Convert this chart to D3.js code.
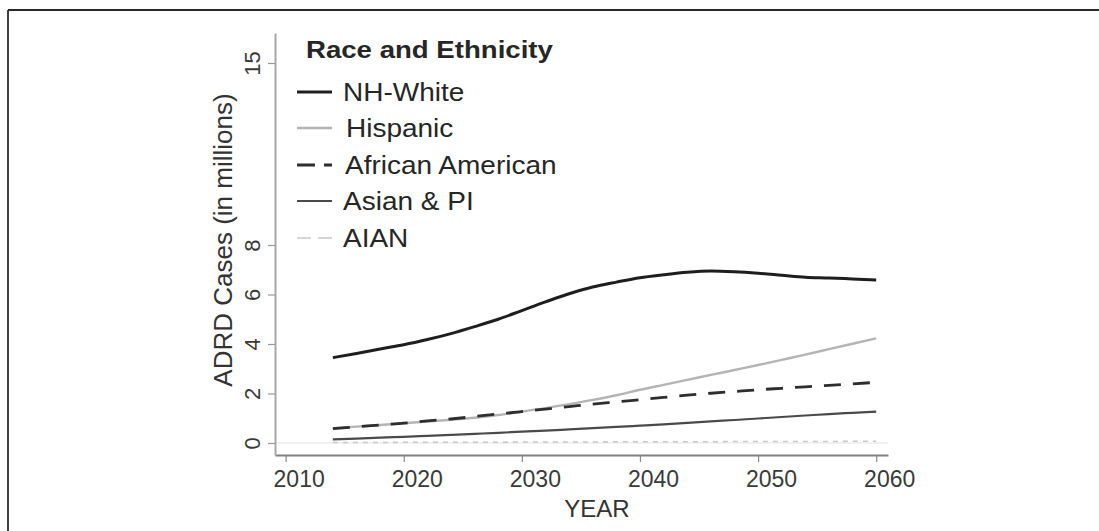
<!DOCTYPE html>
<html>
<head>
<meta charset="utf-8">
<script src="https://cdn.jsdelivr.net/npm/d3@7"></script>
<style>
  html, body { margin: 0; padding: 0; background: #fff; }
  svg { display: block; }
  text { font-family: "Liberation Sans", Arial, Helvetica, sans-serif; }
</style>
</head>
<body>
<svg id="chart" width="1099" height="531"></svg>
<script>
// ---- Data ----
const years = [2014, 2016, 2018, 2020, 2022, 2024, 2026, 2028, 2030, 2032, 2034, 2036,
               2038, 2040, 2042, 2044, 2046, 2048, 2050, 2052, 2054, 2056, 2058, 2060];
const nhWhite = [3.45, 3.62, 3.80, 3.97, 4.18, 4.42, 4.70, 5.00, 5.35, 5.70, 6.03, 6.30,
                 6.50, 6.68, 6.80, 6.90, 6.95, 6.92, 6.86, 6.78, 6.70, 6.67, 6.63, 6.59];
const hispanic = [0.60, 0.66, 0.73, 0.80, 0.87, 0.94, 1.02, 1.13, 1.27, 1.41, 1.57, 1.74,
                  1.93, 2.15, 2.35, 2.55, 2.75, 2.95, 3.15, 3.36, 3.57, 3.79, 4.01, 4.23];
const africanAmerican = [0.58, 0.65, 0.73, 0.80, 0.89, 0.97, 1.07, 1.17, 1.27, 1.37, 1.47, 1.57,
                         1.66, 1.75, 1.84, 1.93, 2.01, 2.08, 2.15, 2.21, 2.27, 2.33, 2.39, 2.45];
const asianPI = [0.15, 0.18, 0.22, 0.25, 0.29, 0.33, 0.37, 0.41, 0.46, 0.50, 0.55, 0.60,
                 0.65, 0.70, 0.75, 0.81, 0.87, 0.93, 0.99, 1.05, 1.11, 1.17, 1.22, 1.27];
const aian = [0.02, 0.02, 0.02, 0.03, 0.03, 0.03, 0.03, 0.03, 0.04, 0.04, 0.04, 0.04,
              0.05, 0.05, 0.05, 0.05, 0.05, 0.06, 0.06, 0.06, 0.06, 0.06, 0.07, 0.07];

const xTicks = [2010, 2020, 2030, 2040, 2050, 2060];
const yTicks = [0, 2, 4, 6, 8, 15];
const seriesNames = ["NH-White", "Hispanic", "African American", "Asian & PI", "AIAN"];
const legendTitle = "Race and Ethnicity";
const xTitle = "YEAR";
const yTitle = "ADRD Cases (in millions)";

// ---- Styles ----
const styles = [
  { color: "#1e1e1e", width: 3,   dash: null,    legendDash: null },
  { color: "#b4b4b4", width: 2.4, dash: null,    legendDash: null },
  { color: "#2e2e2e", width: 2.8, dash: "17,12", legendDash: "18,9" },
  { color: "#4a4a4a", width: 2.2, dash: null,    legendDash: null },
  { color: "#c8c8c8", width: 1.6, dash: "5,5",   legendDash: "14,7" }
];
const allSeries = [nhWhite, hispanic, africanAmerican, asianPI, aian];

const svg = d3.select("#chart");

// Outer frame (top & left edges visible)
svg.append("line").attr("x1", 8).attr("x2", 1099).attr("y1", 10).attr("y2", 10)
  .attr("stroke", "#2a2a2a").attr("stroke-width", 1.8);
svg.append("line").attr("x1", 8).attr("x2", 8).attr("y1", 10).attr("y2", 531)
  .attr("stroke", "#2a2a2a").attr("stroke-width", 1.8);

// Scales (the reference's y axis spacing above 8 is slightly wider)
const x = d3.scaleLinear().domain([2009.1, 2061]).range([275, 888]);
const y = d3.scaleLinear().domain([-0.485, 8, 15, 16.15]).range([455, 245, 63, 33]);

// Zero reference line
svg.append("line")
  .attr("x1", x(2009.1)).attr("x2", x(2061))
  .attr("y1", y(0)).attr("y2", y(0))
  .attr("stroke", "#e4e4e4").attr("stroke-width", 1);

// X axis
const gx = svg.append("g").attr("transform", `translate(0,${y(-0.485)})`)
  .call(d3.axisBottom(x).tickValues(xTicks).tickFormat(d3.format("d")).tickSize(7).tickSizeOuter(0));
gx.select(".domain").attr("stroke", "#808080").attr("stroke-width", 2);
gx.selectAll(".tick line").attr("stroke", "#8a8a8a").attr("stroke-width", 1.2);
gx.selectAll(".tick text").attr("y", 32).attr("dy", 0).attr("dx", 13)
  .attr("font-size", 23).attr("fill", "#3a3a3a")
  .style("font-family", "'Liberation Sans', Arial, sans-serif");

// Y axis
const gy = svg.append("g").attr("transform", `translate(${x(2009.1)},0)`)
  .call(d3.axisLeft(y).tickValues(yTicks).tickSize(7).tickSizeOuter(0));
gy.select(".domain").attr("stroke", "#a8a8a8").attr("stroke-width", 2);
gy.selectAll(".tick line").attr("stroke", "#9a9a9a").attr("stroke-width", 1.2);
gy.selectAll(".tick text")
  .attr("transform", "rotate(-90)")
  .attr("x", 0).attr("y", -15).attr("dy", 0)
  .attr("text-anchor", "middle")
  .attr("font-size", 22).attr("fill", "#3a3a3a")
  .style("font-family", "'Liberation Sans', Arial, sans-serif");

// Axis titles
svg.append("text").attr("x", 597).attr("y", 517).attr("text-anchor", "middle")
  .attr("font-size", 24).attr("fill", "#333").text(xTitle);
svg.append("text").attr("transform", "translate(232,240) rotate(-90)")
  .attr("text-anchor", "middle").attr("font-size", 26).attr("fill", "#333").text(yTitle);

// Lines
const line = d3.line().x((d, i) => x(years[i])).y(d => y(d)).curve(d3.curveMonotoneX);
[4, 3, 1, 2, 0].forEach(k => {
  svg.append("path").datum(allSeries[k])
    .attr("d", line)
    .attr("fill", "none")
    .attr("stroke", styles[k].color)
    .attr("stroke-width", styles[k].width)
    .attr("stroke-dasharray", styles[k].dash)
    .attr("stroke-linejoin", "round");
});

// Legend (text in the reference is slightly stretched horizontally)
svg.append("g").attr("transform", "translate(306,58) scale(1.15,1)")
  .append("text").attr("font-size", 24).attr("font-weight", "bold")
  .attr("fill", "#262626").text(legendTitle);
const rowY = [92, 128, 165, 201, 238];
const textX = [343, 346, 345, 343, 343];
seriesNames.forEach((name, k) => {
  svg.append("line").attr("x1", 297).attr("x2", 332).attr("y1", rowY[k]).attr("y2", rowY[k])
    .attr("stroke", styles[k].color).attr("stroke-width", styles[k].width)
    .attr("stroke-dasharray", styles[k].legendDash);
  svg.append("g").attr("transform", `translate(${textX[k]},${rowY[k]}) scale(1.12,1)`)
    .append("text").attr("dy", "0.36em")
    .attr("font-size", 25).attr("fill", "#262626").text(name);
});
</script>
</body>
</html>
